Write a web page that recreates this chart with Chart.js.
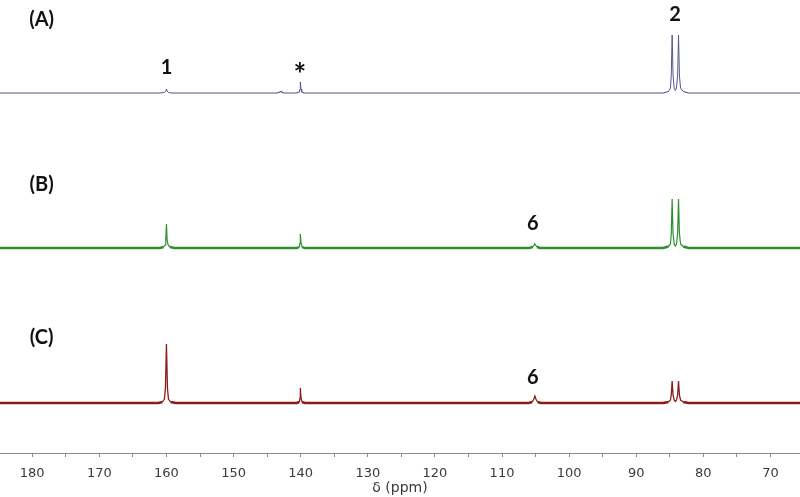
<!DOCTYPE html>
<html>
<head>
<meta charset="utf-8">
<script src="https://cdn.jsdelivr.net/npm/chart.js@4.4.1/dist/chart.umd.min.js"></script>
<style>
  html, body { margin: 0; padding: 0; background: #ffffff; }
  #wrap { width: 800px; height: 497px; }
</style>
</head>
<body>
<div id="wrap"><canvas id="c" width="800" height="497"></canvas></div>
<script>
// ---- data (ppm, intensity above baseline) ----
const spectrumA = [
  [184.8,0],[161.0,0],[160.3,0.5],[160.1,2],[160.0,4],[159.9,2],[159.7,0.5],[159.2,0],
  [143.5,0],[142.9,1.5],[142.6,0],
  [140.6,0],[140.2,1],[140.1,4],[140.05,11],[139.95,4],[139.85,1],[139.5,0],
  [86.0,0],[85.2,1.5],[84.9,5],[84.78,18],[84.65,58],[84.52,18],[84.35,5],[84.18,2.5],
  [84.0,5],[83.83,18],[83.7,58],[83.57,18],[83.4,5],[83.0,1.5],[82.2,0],[65.6,0]
];
const spectrumB = [
  [184.8,0],[161.0,0],[160.4,1],[160.2,3],[160.1,8],[160.0,24],[159.9,8],[159.75,3],[159.5,1],[158.8,0],
  [140.6,0],[140.2,1],[140.1,5],[140.05,14],[139.95,5],[139.8,1],[139.4,0],
  [106.0,0],[105.4,1],[105.2,3],[105.1,4],[105.0,3],[104.8,1],[104.3,0],
  [86.0,0],[85.2,1.5],[84.9,4],[84.78,15],[84.65,49],[84.52,15],[84.35,4],[84.18,2],
  [84.0,4],[83.83,15],[83.7,49],[83.57,15],[83.4,4],[83.0,1.5],[82.2,0],[65.6,0]
];
const spectrumC = [
  [184.8,0],[161.2,0],[160.6,1],[160.3,4],[160.15,15],[160.0,59],[159.85,15],[159.7,4],[159.4,1],[158.6,0],
  [140.6,0],[140.2,1],[140.1,5],[140.05,15],[139.95,5],[139.8,1],[139.4,0],
  [106.0,0],[105.5,1],[105.25,4],[105.1,7],[104.95,4],[104.7,1],[104.2,0],
  [86.0,0],[85.2,1],[84.9,3],[84.78,8],[84.65,22],[84.52,8],[84.35,3],[84.18,1.5],
  [84.0,3],[83.83,8],[83.7,22],[83.57,8],[83.4,3],[83.0,1],[82.2,0],[65.6,0]
];
const seriesNames = ['(A)', '(B)', '(C)'];
const baselineOffsets = [360, 205, 50];
const xTicks = [70,75,80,85,90,95,100,105,110,115,120,125,130,135,140,145,150,155,160,165,170,175,180];
const peakLabels = [
  { text: '(A)', x: 178.6, y: 433, size: 20 },
  { text: '(B)', x: 178.6, y: 268, size: 20 },
  { text: '(C)', x: 178.6, y: 115, size: 20 },
  { text: '1',   x: 160.0, y: 385, size: 20 },
  { text: '*',   x: 140.1, y: 378, size: 30 },
  { text: '2',   x: 84.2,  y: 438, size: 20 },
  { text: '6',   x: 105.4, y: 229, size: 20 },
  { text: '6',   x: 105.4, y: 75,  size: 20 }
];

const colors = ['#55558f', '#2f8f2f', '#8b1c1c'];
const baseWidths = [1.2, 2.4, 2.6];
const peakWidths = [1, 1.2, 1.3];
const spectra = [spectrumA, spectrumB, spectrumC];

const datasets = spectra.map((s, i) => ({
  label: seriesNames[i],
  data: s.map(([p, h]) => ({ x: p, y: baselineOffsets[i] + h })),
  borderColor: colors[i],
  borderWidth: baseWidths[i],
  pointRadius: 0,
  tension: 0,
  fill: false,
  segment: {
    borderWidth: ctx => {
      const a = ctx.p0.parsed.y - baselineOffsets[i];
      const b = ctx.p1.parsed.y - baselineOffsets[i];
      return (a > 1.5 || b > 1.5) ? peakWidths[i] : baseWidths[i];
    }
  }
}));

const labelPlugin = {
  id: 'peakLabels',
  afterDatasetsDraw(chart) {
    const { ctx, scales } = chart;
    ctx.save();
    ctx.fillStyle = '#111';
    ctx.textAlign = 'center';
    ctx.textBaseline = 'middle';
    peakLabels.forEach(l => {
      ctx.font = 'bold ' + l.size + 'px Lato, "Open Sans", sans-serif';
      ctx.fillText(l.text, scales.x.getPixelForValue(l.x), scales.y.getPixelForValue(l.y));
    });
    ctx.restore();
  }
};

new Chart(document.getElementById('c'), {
  type: 'line',
  data: { datasets },
  plugins: [labelPlugin],
  options: {
    responsive: false,
    animation: false,
    devicePixelRatio: 1,
    layout: { padding: 0 },
    plugins: { legend: { display: false }, tooltip: { enabled: false } },
    scales: {
      x: {
        type: 'linear',
        reverse: true,
        min: 65.6,
        max: 184.8,
        afterBuildTicks(scale) { scale.ticks = xTicks.map(v => ({ value: v })); },
        afterFit(scale) { scale.height = 44; },
        ticks: {
          autoSkip: false,
          maxRotation: 0,
          padding: 9,
          color: '#3a3a3a',
          font: { family: '"DejaVu Sans", sans-serif', size: 13 },
          callback: v => (v % 10 === 0 ? String(v) : '')
        },
        grid: { drawOnChartArea: false, drawTicks: true, tickLength: 4, color: '#8a8a8a' },
        border: { display: true, color: '#8a8a8a', width: 1 },
        title: {
          display: true,
          text: 'δ (ppm)',
          color: '#3a3a3a',
          font: { family: '"DejaVu Sans", sans-serif', size: 14 },
          padding: { top: 0, bottom: 0 }
        }
      },
      y: { display: false, min: 0, max: 453 }
    }
  }
});
</script>
</body>
</html>
